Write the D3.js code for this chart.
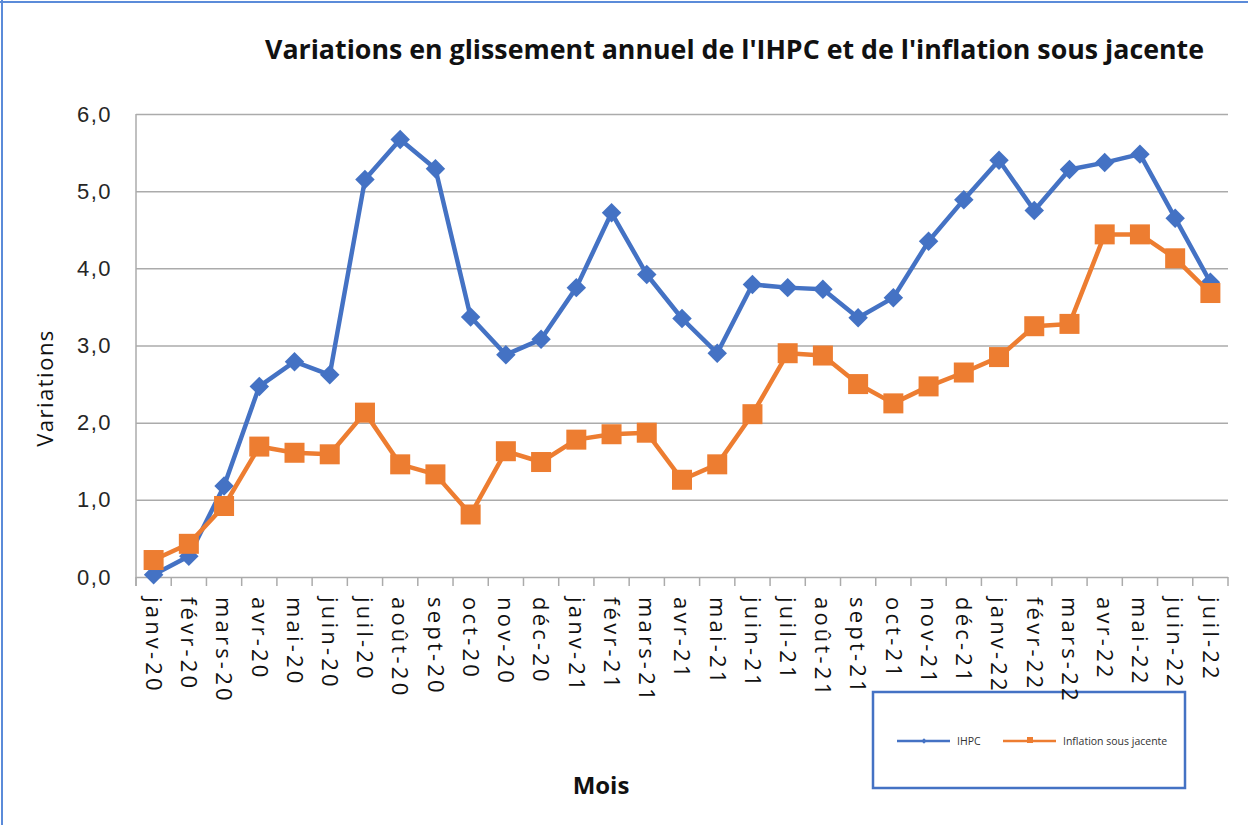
<!DOCTYPE html>
<html>
<head>
<meta charset="utf-8">
<script src="https://cdn.jsdelivr.net/npm/d3@7/dist/d3.min.js"></script>
<style>
  body { margin: 0; background: #fff; }
  svg { display: block; }
</style>
</head>
<body>
<div id="chart"></div>
<script>
// months, janv-20 .. juil-22
var months = ["janv-20", "févr-20", "mars-20", "avr-20", "mai-20", "juin-20", "juil-20", "août-20", "sept-20", "oct-20", "nov-20", "déc-20",
    "janv-21", "févr-21", "mars-21", "avr-21", "mai-21", "juin-21", "juil-21", "août-21", "sept-21", "oct-21", "nov-21", "déc-21",
    "janv-22", "févr-22", "mars-22", "avr-22", "mai-22", "juin-22", "juil-22"];

var ihpc = [0.03, 0.27, 1.18, 2.47, 2.79, 2.62, 5.15, 5.67, 5.29, 3.37, 2.88, 3.08,
    3.75, 4.72, 3.92, 3.35, 2.90, 3.79, 3.75, 3.73, 3.36, 3.62, 4.35, 4.89,
    5.40, 4.75, 5.28, 5.37, 5.48, 4.65, 3.82];

var sousJacente = [0.22, 0.43, 0.92, 1.69, 1.61, 1.59, 2.13, 1.46, 1.33, 0.81, 1.63, 1.49,
    1.78, 1.85, 1.87, 1.26, 1.46, 2.11, 2.90, 2.87, 2.50, 2.25, 2.47, 2.65,
    2.85, 3.25, 3.28, 4.44, 4.44, 4.13, 3.68];

var yTicks = [0, 1, 2, 3, 4, 5, 6];

var seriesNames = ["IHPC", "Inflation sous jacente"];
var colors = ["#4472C4", "#ED7D31"];

var W = 1248, H = 825;
var plotLeft = 136, plotRight = 1228, plotTop = 114, plotBottom = 577;

var svg = d3.select("#chart").append("svg")
    .attr("width", W)
    .attr("height", H)
    .style("font-family", "'Open Sans', 'Liberation Sans', sans-serif");

// outer frame (only top and left visible)
svg.append("line").attr("x1", 0).attr("x2", W).attr("y1", 2).attr("y2", 2)
    .attr("stroke", "#5B8BD9").attr("stroke-width", 2);
svg.append("line").attr("x1", 2).attr("x2", 2).attr("y1", 0).attr("y2", H)
    .attr("stroke", "#5B8BD9").attr("stroke-width", 2);

var x = d3.scaleBand()
    .domain(months)
    .range([plotLeft, plotRight]);

var y = d3.scaleLinear()
    .domain([0, 6])
    .range([plotBottom, plotTop]);

function cx(i) { return x(months[i]) + x.bandwidth() / 2; }

// legend box (drawn first, labels overlap it like the original)
var legend = svg.append("g");
legend.append("rect")
    .attr("x", 873).attr("y", 692)
    .attr("width", 312).attr("height", 96)
    .attr("fill", "none")
    .attr("stroke", "#4472C4")
    .attr("stroke-width", 2.5);

// y grid + labels
var yAxis = d3.axisLeft(y)
    .tickValues(yTicks)
    .tickSize(-(plotRight - plotLeft))
    .tickPadding(24)
    .tickFormat(function(d) { return d3.format(".1f")(d).replace(".", ","); });

var gy = svg.append("g")
    .attr("transform", "translate(" + plotLeft + ",0)")
    .call(yAxis);
gy.select(".domain").remove();
gy.selectAll(".tick line").attr("stroke", "#ABABAB").attr("stroke-width", 1.5);
gy.selectAll(".tick text")
    .attr("fill", "#262626")
    .style("font-size", "22px")
    .style("letter-spacing", "1.5px")
    .attr("x", -24);

// vertical axis line
svg.append("line")
    .attr("x1", plotLeft).attr("x2", plotLeft)
    .attr("y1", plotTop).attr("y2", plotBottom + 9)
    .attr("stroke", "#ABABAB").attr("stroke-width", 1.5);

// x tick marks at band edges
var edges = months.map(function(m) { return x(m); }).concat([plotRight]);
svg.append("g").selectAll("line")
    .data(edges)
    .enter().append("line")
    .attr("x1", function(d) { return d; })
    .attr("x2", function(d) { return d; })
    .attr("y1", plotBottom)
    .attr("y2", plotBottom + 9)
    .attr("stroke", "#ABABAB")
    .attr("stroke-width", 1.5);

// x labels, rotated
svg.append("g").selectAll("text")
    .data(months)
    .enter().append("text")
    .attr("transform", function(d, i) {
        return "translate(" + cx(i) + "," + 597 + ") rotate(90)";
    })
    .attr("dy", "0.35em")
    .attr("text-anchor", "start")
    .attr("fill", "#111")
    .style("font-size", "22px")
    .style("letter-spacing", "3.2px")
    .text(function(d) { return d; });

// lines
var line = d3.line()
    .x(function(d, i) { return cx(i); })
    .y(function(d) { return y(d); });

var allSeries = [ihpc, sousJacente];

allSeries.forEach(function(values, s) {
    var g = svg.append("g");
    g.append("path")
        .datum(values)
        .attr("d", line)
        .attr("fill", "none")
        .attr("stroke", colors[s])
        .attr("stroke-width", 4.5)
        .attr("stroke-linejoin", "round");

    if (s == 0) {
        // diamonds
        g.selectAll("path.m")
            .data(values)
            .enter().append("path")
            .attr("class", "m")
            .attr("d", d3.symbol(d3.symbolSquare, 190)())
            .attr("transform", function(d, i) {
                return "translate(" + cx(i) + "," + y(d) + ") rotate(45)";
            })
            .attr("fill", colors[s]);
    } else {
        g.selectAll("rect")
            .data(values)
            .enter().append("rect")
            .attr("x", function(d, i) { return cx(i) - 10; })
            .attr("y", function(d) { return y(d) - 10; })
            .attr("width", 20)
            .attr("height", 20)
            .attr("fill", colors[s]);
    }
});

// title
svg.append("text")
    .attr("x", 265)
    .attr("y", 59)
    .attr("textLength", 939)
    .attr("lengthAdjust", "spacingAndGlyphs")
    .attr("fill", "#111")
    .style("font-size", "27px")
    .style("font-weight", "bold")
    .text("Variations en glissement annuel de l'IHPC et de l'inflation sous jacente");

// y title
svg.append("text")
    .attr("transform", "translate(53,388) rotate(-90)")
    .attr("text-anchor", "middle")
    .attr("fill", "#111")
    .style("font-size", "22px")
    .style("letter-spacing", "1.5px")
    .text("Variations");

// x title
svg.append("text")
    .attr("x", 601)
    .attr("y", 794)
    .attr("text-anchor", "middle")
    .attr("fill", "#111")
    .style("font-size", "24px")
    .style("font-weight", "bold")
    .text("Mois");

// legend entries
var legX = [897, 1003];
seriesNames.forEach(function(name, s) {
    var lx = legX[s];
    legend.append("line")
        .attr("x1", lx).attr("x2", lx + 53)
        .attr("y1", 741).attr("y2", 741)
        .attr("stroke", colors[s]).attr("stroke-width", 2.5);
    if (s == 0) {
        legend.append("path")
            .attr("d", d3.symbol(d3.symbolSquare, 14)())
            .attr("transform", "translate(" + (lx + 27) + ",741) rotate(45)")
            .attr("fill", colors[s]);
    } else {
        legend.append("rect")
            .attr("x", lx + 24).attr("y", 737)
            .attr("width", 6).attr("height", 6)
            .attr("fill", colors[s]);
    }
    legend.append("text")
        .attr("x", lx + 60)
        .attr("y", 745)
        .attr("fill", "#333")
        .style("font-size", "10.5px")
        .text(name);
});
</script>
</body>
</html>
